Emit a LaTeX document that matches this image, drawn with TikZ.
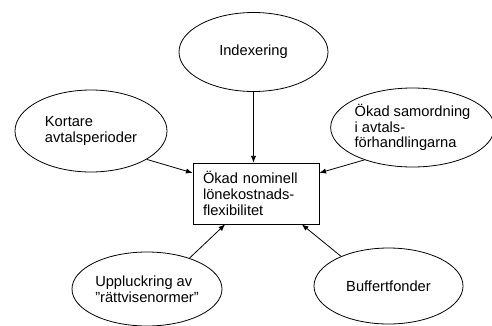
\documentclass[tikz,border=0pt]{standalone}
\usepackage{fontspec}
\setmainfont{Liberation Sans}
\usetikzlibrary{arrows.meta,shapes.geometric}
\begin{document}
\begin{tikzpicture}[x=0.75pt,y=-0.75pt,
  every node/.style={font=\fontsize{11pt}{11.8pt}\selectfont},
  factor/.style={draw,ellipse,line width=0.6pt,inner sep=0pt,align=left},
  target/.style={draw,rectangle,line width=0.6pt,inner xsep=7.5pt,inner ysep=0pt,
    text width=79.5pt,minimum height=45.75pt,align=left},
  link/.style={line width=0.6pt,-{Latex[length=5pt,width=4pt]}}]
  \useasboundingbox (0,0) rectangle (492,325);

  % central effect
  \node[target] (box) at (256,193.5) {Ökad nominell\\lönekostnads-\\flexibilitet};

  % contributing factors
  \node[factor,minimum width=111.75pt,minimum height=59.25pt] (idx) at (253.5,52) {Indexering};
  \node[factor,minimum width=114pt,minimum height=61.5pt] (kort) at (91,131) {Kortare\\avtalsperioder};
  \node[factor,minimum width=113.25pt,minimum height=59.25pt] (samo) at (412.5,127.5) {Ökad samordning\\i avtals-\\förhandlingarna};
  \node[factor,minimum width=112.5pt,minimum height=55.5pt] (upp) at (147,289) {Uppluckring av\\”rättvisenormer”};
  \node[factor,minimum width=111.75pt,minimum height=57pt] (buff) at (388.5,286) {Buffertfonder};

  % influences
  \draw[link] (idx.south) -- (idx.south |- box.north);
  \draw[link] (kort.-27) -- (box.162);
  \draw[link] (samo.-146.5) -- (box.18);
  \draw[link] (upp.36.5) -- (box.-135);
  \draw[link] (buff.148) -- (box.-34);
\end{tikzpicture}
\end{document}
